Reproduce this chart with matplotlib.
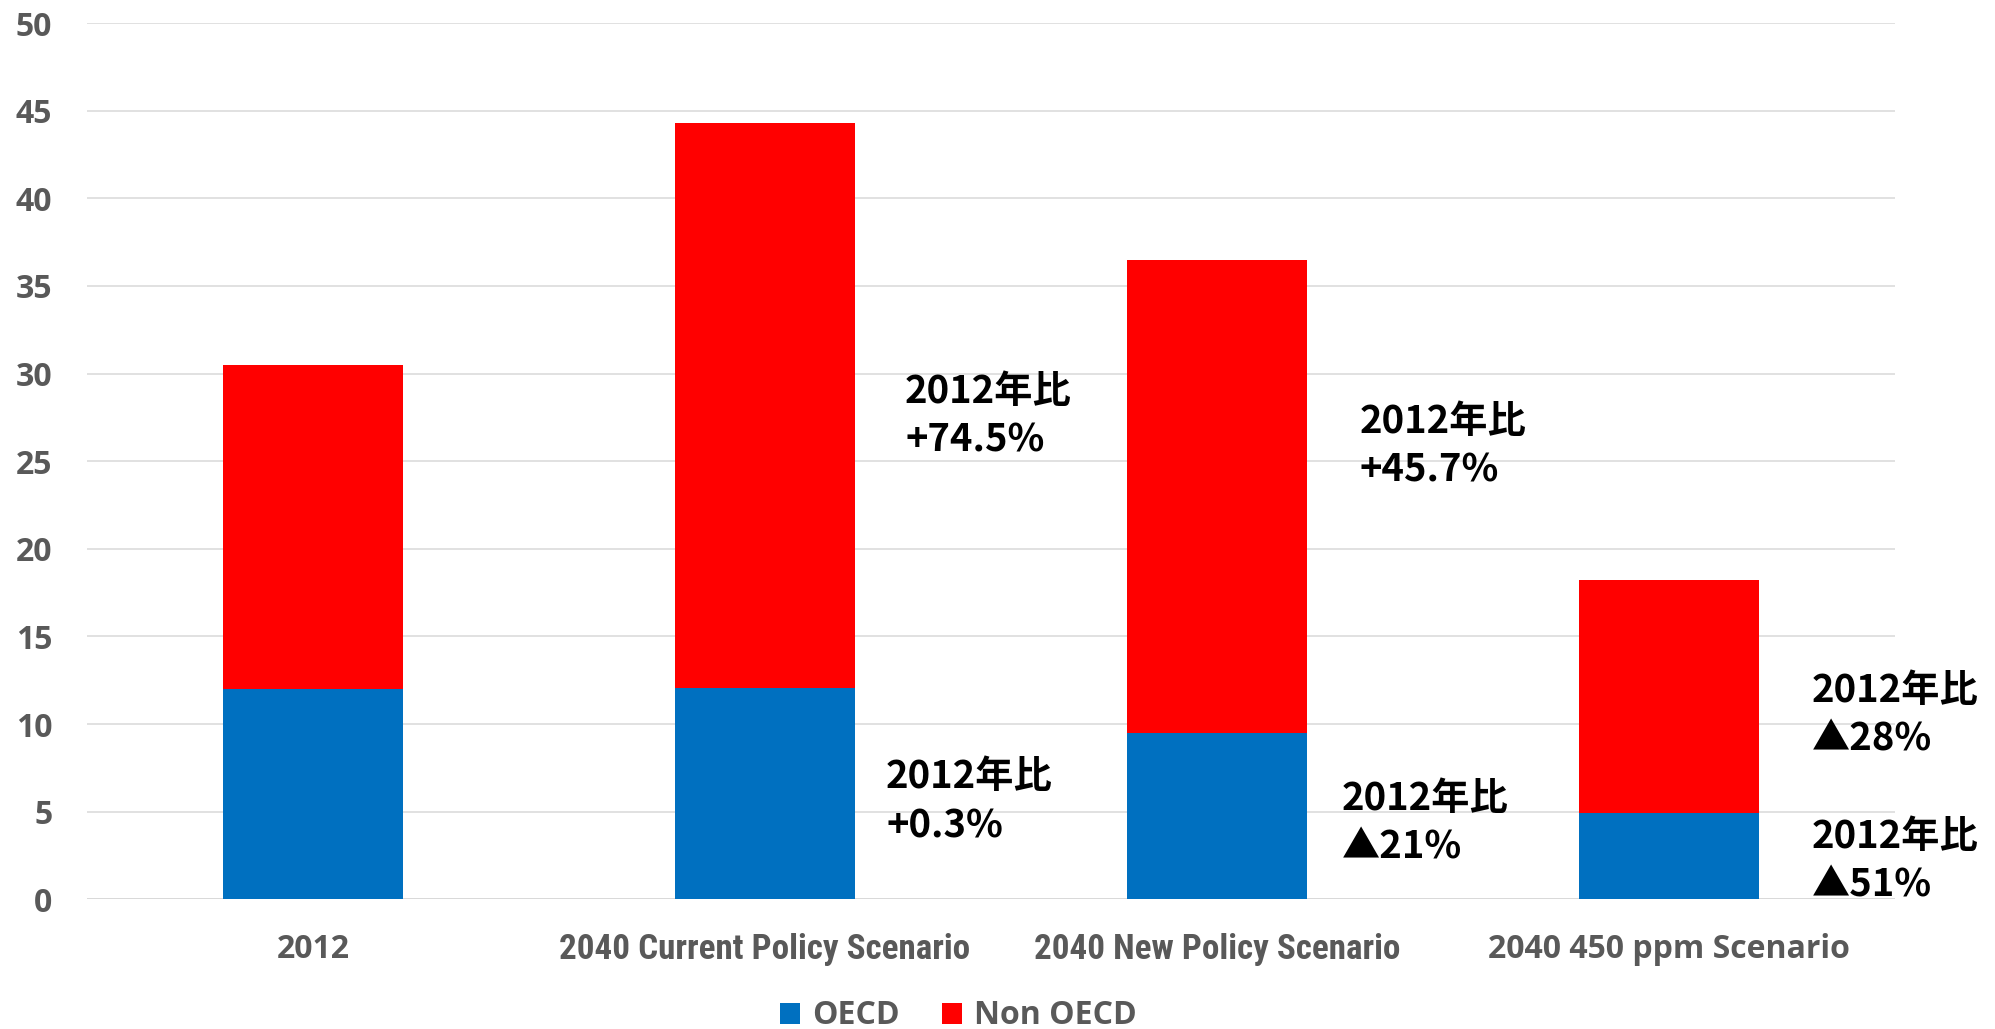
import os
import matplotlib
matplotlib.use("Agg")
import matplotlib.pyplot as plt
from matplotlib.patches import Patch
from matplotlib import font_manager
from matplotlib.font_manager import FontProperties

# Energy-related CO2 emissions (Gt) by region
categories = ["2012", "2040 Current Policy Scenario", "2040 New Policy Scenario", "2040 450 ppm Scenario"]
oecd = [12.0, 12.04, 9.5, 4.9]
non_oecd = [18.5, 32.28, 26.95, 13.3]
yticks = [0, 5, 10, 15, 20, 25, 30, 35, 40, 45, 50]

# Change-versus-2012 notes: (text, x, y of first baseline)
notes = [
    ("2012年比\n+74.5%", 1.310, 28.33),
    ("2012年比\n+0.3%", 1.268, 6.35),
    ("2012年比\n+45.7%", 2.316, 26.61),
    ("2012年比\n▲21%", 2.276, 5.10),
    ("2012年比\n▲28%", 3.316, 11.28),
    ("2012年比\n▲51%", 3.316, 2.93),
]

BLUE = "#0070C0"
RED = "#FF0000"
GREY = "#595959"
GRID = "#D9D9D9"
LABEL_SIZE = 23
JP_FONT = ["Noto Sans CJK JP", "DejaVu Sans"]


def find_face(want, avoid=()):
    """Return the first installed font file whose name holds every word in want."""
    for f in font_manager.fontManager.ttflist:
        base = os.path.basename(f.fname).lower().replace("_", "").replace("-", "")
        if all(w in base for w in want) and not any(a in base for a in avoid):
            return f.fname
    return None


style_bad = ("italic", "semibold", "extrabold", "condensed", "semicond", "narrow", "black")
regular_file = (find_face(("opensans", "bold"), style_bad)
                or find_face(("lato", "bold"), style_bad))
narrow_file = None
for want in (("opensans", "condensed", "bold"), ("roboto", "condensed", "bold"),
             ("liberationsans", "narrow", "bold"), ("dejavusans", "condensed", "bold")):
    narrow_file = find_face(want, ("italic", "semibold", "extrabold", "light"))
    if narrow_file:
        break


def label_font(size, fname=None):
    fname = fname or regular_file
    if fname:
        return FontProperties(fname=fname, size=size)
    return FontProperties(family="DejaVu Sans", weight="bold", size=size)


fig = plt.figure(figsize=(19.95, 10.29), dpi=100)
W, H = 1995, 1029
ax = fig.add_axes([87 / W, 1 - 899.3 / H, (1895 - 87) / W, (899.3 - 23) / H])

x = list(range(len(categories)))
ax.bar(x, oecd, width=0.4, color=BLUE, label="OECD", zorder=3)
ax.bar(x, non_oecd, width=0.4, bottom=oecd, color=RED, label="Non OECD", zorder=3)

ax.set_xlim(-0.5, len(categories) - 0.5)
ax.set_ylim(0, 50)
ax.set_yticks(yticks)
ax.yaxis.grid(True, color=GRID, linewidth=1.1, zorder=0)
ax.set_axisbelow(True)
for s in ax.spines.values():
    s.set_visible(False)
ax.axhline(0, color=GRID, linewidth=1.3, zorder=2)
ax.tick_params(axis="both", length=0)
ax.tick_params(axis="y", pad=25)
ax.tick_params(axis="x", pad=24)

for lab in ax.get_yticklabels():
    lab.set_fontproperties(label_font(LABEL_SIZE))
    lab.set_color(GREY)

ax.set_xticks(x)
ax.set_xticklabels(categories)
# the two long names are squeezed into their slots (target widths in px)
squeeze = {1: 440, 2: 392}
renderer = fig.canvas.get_renderer()
for i, lab in enumerate(ax.get_xticklabels()):
    lab.set_color(GREY)
    if i in squeeze:
        lab.set_fontproperties(label_font(LABEL_SIZE, narrow_file))
        w = lab.get_window_extent(renderer).width
        scale = squeeze[i] / w
        scale = min(scale, 1.1 if narrow_file else 1.0)
        lab.set_fontsize(LABEL_SIZE * scale)
    else:
        lab.set_fontproperties(label_font(LABEL_SIZE))

for text, nx, ny in notes:
    for k, line in enumerate(text.split("\n")):
        ax.annotate(line, xy=(nx, ny), xytext=(0, -35.3 * k), textcoords="offset points",
                    ha="left", va="baseline", fontsize=27.5, fontweight="bold",
                    family=JP_FONT, color="black", annotation_clip=False, zorder=5)

handles = [Patch(facecolor=BLUE, label="OECD"), Patch(facecolor=RED, label="Non OECD")]
leg = fig.legend(handles=handles, loc="center", bbox_to_anchor=(958.5 / W, 1 - 1016 / H),
                 ncol=2, frameon=False, handlelength=0.62, handleheight=0.62,
                 handletextpad=0.4, columnspacing=1.3, prop=label_font(LABEL_SIZE))
for t in leg.get_texts():
    t.set_color(GREY)

fig.savefig("out.png", dpi=100, facecolor="white")
